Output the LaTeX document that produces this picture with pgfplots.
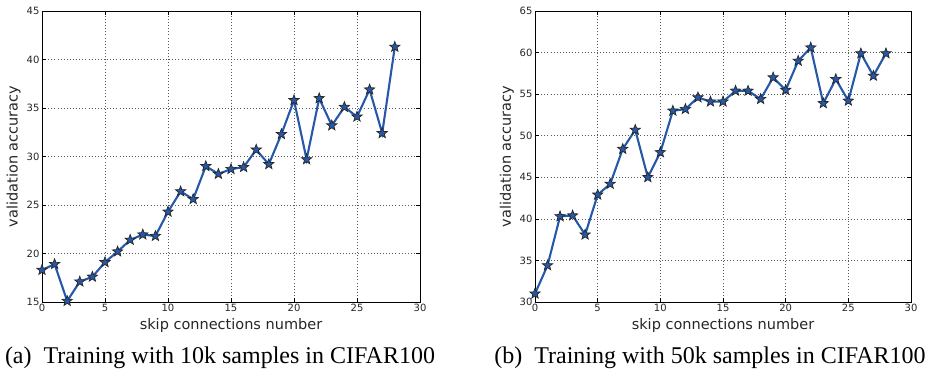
\documentclass[border=0pt]{standalone}
\usepackage{fontspec}
\setmainfont{Liberation Serif}
\newfontfamily\dejavu{DejaVu Sans}
\usepackage{pgfplots}
\pgfplotsset{compat=1.18}
\definecolor{lineblue}{RGB}{38,88,168}
\pgfplotsset{
  myax/.style={
    scale only axis,
    height=291pt,
    xmin=0, xmax=30,
    xtick={0,5,...,30},
    grid=major,
    grid style={dash pattern=on 0.9pt off 2.2pt, black!65, line width=0.6pt},
    axis line style={black, line width=0.8pt},
    tick align=inside,
    major tick length=4pt,
    tick style={black, line width=0.6pt},
    /pgf/number format/assume math mode=true,
    ticklabel style={font=\dejavu\fontsize{10}{12}\selectfont, text=black!85},
    label style={font=\dejavu\fontsize{14.5}{17}\selectfont, text=black!85},
    xlabel={skip connections number},
    ylabel={validation accuracy},
    xlabel style={at={(axis description cs:0.5,-0.082)}, anchor=center},
    ylabel style={at={(axis description cs:-0.075,0.5)}, anchor=center},
    xticklabel style={yshift=1pt},
    yticklabel style={xshift=1pt},
  },
  myplot/.style={
    color=lineblue, line width=2.1pt,
    mark=star, mark size=5.4pt,
    mark options={fill=lineblue, draw=black!85, line width=0.7pt, solid},
  },
}
\pgfdeclareplotmark{star}{%
  \pgfpathmoveto{\pgfqpointpolar{90}{\pgfplotmarksize}}%
  \pgfpathlineto{\pgfqpointpolar{126}{0.42\pgfplotmarksize}}%
  \pgfpathlineto{\pgfqpointpolar{162}{\pgfplotmarksize}}%
  \pgfpathlineto{\pgfqpointpolar{198}{0.42\pgfplotmarksize}}%
  \pgfpathlineto{\pgfqpointpolar{234}{\pgfplotmarksize}}%
  \pgfpathlineto{\pgfqpointpolar{270}{0.42\pgfplotmarksize}}%
  \pgfpathlineto{\pgfqpointpolar{306}{\pgfplotmarksize}}%
  \pgfpathlineto{\pgfqpointpolar{342}{0.42\pgfplotmarksize}}%
  \pgfpathlineto{\pgfqpointpolar{18}{\pgfplotmarksize}}%
  \pgfpathlineto{\pgfqpointpolar{54}{0.42\pgfplotmarksize}}%
  \pgfpathclose
  \pgfusepathqfillstroke
}
\begin{document}
\begin{tikzpicture}
\useasboundingbox (-42pt,-70pt) rectangle (889pt,302pt);
\begin{axis}[myax, width=378pt, at={(0pt,0pt)}, anchor=south west,
  ymin=15, ymax=45, ytick={15,20,...,45}]
\addplot[myplot] coordinates {
(0,18.3) (1,18.9) (2,15.1) (3,17.1) (4,17.6) (5,19.1) (6,20.2) (7,21.4)
(8,21.95) (9,21.8) (10,24.3) (11,26.4) (12,25.6) (13,29.0) (14,28.2)
(15,28.7) (16,28.9) (17,30.7) (18,29.2) (19,32.3) (20,35.8) (21,29.7)
(22,36.0) (23,33.2) (24,35.1) (25,34.1) (26,36.9) (27,32.4) (28,41.3)};
\end{axis}
\begin{axis}[myax, width=376pt, at={(493pt,0pt)}, anchor=south west,
  ymin=30, ymax=65, ytick={30,35,...,65}]
\addplot[myplot] coordinates {
(0,31.0) (1,34.4) (2,40.3) (3,40.4) (4,38.1) (5,42.9) (6,44.2) (7,48.4)
(8,50.7) (9,45.0) (10,48.0) (11,53.0) (12,53.2) (13,54.6) (14,54.1)
(15,54.1) (16,55.4) (17,55.4) (18,54.4) (19,57.0) (20,55.5) (21,59.0)
(22,60.6) (23,53.9) (24,56.8) (25,54.2) (26,59.9) (27,57.2) (28,59.9)};
\end{axis}
\node[font=\fontsize{24}{28}\selectfont, anchor=center] at (178pt,-56pt) {(a)\ \ Training with 10k samples in CIFAR100};
\node[font=\fontsize{24}{28}\selectfont, anchor=center] at (668pt,-56pt) {(b)\ \ Training with 50k samples in CIFAR100};
\end{tikzpicture}
\end{document}
